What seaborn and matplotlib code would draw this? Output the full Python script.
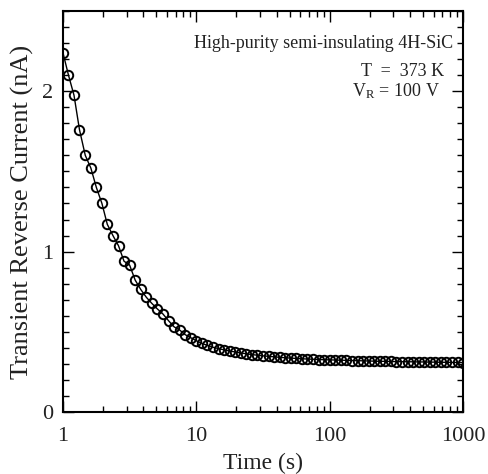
import numpy as np
import pandas as pd
import matplotlib
matplotlib.use("Agg")
import matplotlib.pyplot as plt
import seaborn as sns
from matplotlib.ticker import MultipleLocator, LogLocator, NullFormatter, FixedLocator, FixedFormatter

time_s = [1.00, 1.10, 1.21, 1.33, 1.47, 1.62, 1.78, 1.96, 2.15, 2.37, 2.61, 2.87,
          3.16, 3.48, 3.83, 4.22, 4.64, 5.11, 5.62, 6.19, 6.81, 7.50, 8.25, 9.09,
          10.0, 11.0, 12.1, 13.3, 14.7, 16.2, 17.8, 19.6, 21.5, 23.7, 26.1, 28.7,
          31.6, 34.8, 38.3, 42.2, 46.4, 51.1, 56.2, 61.9, 68.1, 75.0, 82.5, 90.9,
          100, 110, 121, 133, 147, 162, 178, 196, 215, 237, 261, 287,
          316, 348, 383, 422, 464, 511, 562, 619, 681, 750, 825, 909, 1000]
current_nA = [2.24, 2.10, 1.975, 1.76, 1.60, 1.52, 1.40, 1.30, 1.17, 1.10, 1.036, 0.94,
              0.916, 0.822, 0.764, 0.715, 0.677, 0.642, 0.611, 0.569, 0.531, 0.511, 0.482, 0.463,
              0.444, 0.428, 0.415, 0.404, 0.395, 0.387, 0.380, 0.374, 0.368, 0.363, 0.358, 0.354,
              0.350, 0.347, 0.344, 0.341, 0.338, 0.336, 0.334, 0.332, 0.330, 0.329, 0.327, 0.326,
              0.325, 0.324, 0.323, 0.322, 0.321, 0.320, 0.319, 0.318, 0.317, 0.316, 0.316, 0.315,
              0.314, 0.314, 0.313, 0.313, 0.312, 0.312, 0.311, 0.311, 0.310, 0.310, 0.309, 0.309, 0.308]

x_ticks = [1, 10, 100, 1000]
x_ticklabels = ["1", "10", "100", "1000"]
y_ticks = [0, 1, 2]
y_ticklabels = ["0", "1", "2"]

df = pd.DataFrame({"t": time_s, "I": current_nA})

sns.set_theme(style="ticks")
plt.rcParams["font.family"] = ["Liberation Serif", "DejaVu Serif"]
plt.rcParams["mathtext.fontset"] = "stix"

fig = plt.figure(figsize=(4.88, 4.74), dpi=100)
ax = fig.add_axes([0.129, 0.1308, 0.820, 0.846])

sns.lineplot(data=df, x="t", y="I", ax=ax, color="black", linewidth=1.0,
             marker="o", markersize=6.8, markerfacecolor="none",
             markeredgecolor="black", markeredgewidth=1.4)

ax.set_xscale("log")
ax.set_xlim(1, 1000)
ax.set_ylim(0, 2.5)

ax.xaxis.set_major_locator(FixedLocator(x_ticks))
ax.xaxis.set_major_formatter(FixedFormatter(x_ticklabels))
ax.xaxis.set_minor_locator(LogLocator(base=10, subs=np.arange(2, 10)))
ax.xaxis.set_minor_formatter(NullFormatter())
ax.yaxis.set_major_locator(FixedLocator(y_ticks))
ax.yaxis.set_major_formatter(FixedFormatter(y_ticklabels))
ax.yaxis.set_minor_locator(MultipleLocator(0.1))

ax.tick_params(which="both", direction="in", top=True, right=True, color="black", width=1.0)
ax.tick_params(which="major", length=8, labelsize=16, pad=7, labelcolor="#222222")
ax.tick_params(axis="x", which="major", pad=11)
ax.tick_params(which="minor", length=4.5)
for s in ax.spines.values():
    s.set_linewidth(1.5)
    s.set_color("black")

ax.set_xlabel("Time (s)", fontsize=17, color="#222222", labelpad=5)
ax.set_ylabel("Transient Reverse Current (nA)", fontsize=19, color="#222222", labelpad=6)

ax.text(0.975, 0.92, "High-purity semi-insulating 4H-SiC", transform=ax.transAxes,
        ha="right", va="center", fontsize=13, color="#222222")
ax.text(0.953, 0.848, "T  =  373 K", transform=ax.transAxes,
        ha="right", va="center", fontsize=13, color="#222222")
ax.text(0.943, 0.80, r"V$_\mathregular{R}$ = 100 V", transform=ax.transAxes,
        ha="right", va="center", fontsize=13, color="#222222")

fig.savefig("out.png", dpi=100)
